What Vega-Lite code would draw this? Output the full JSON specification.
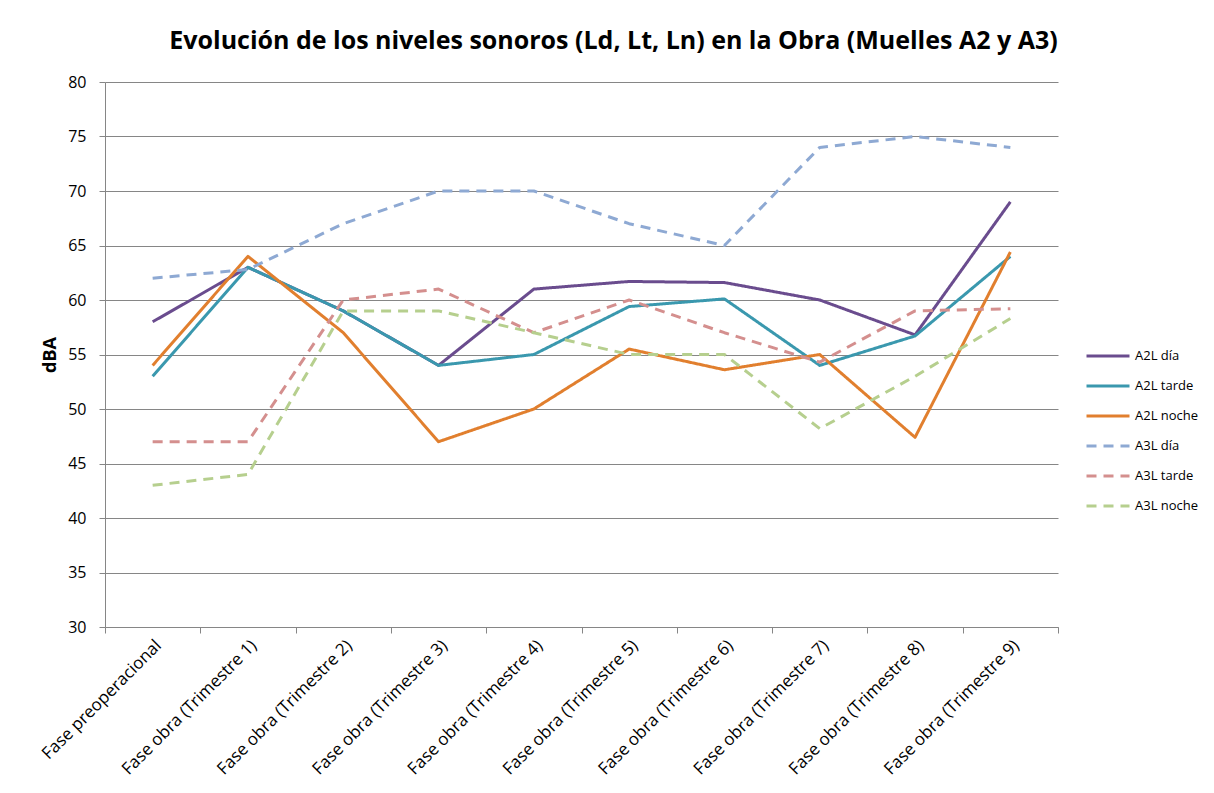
{
  "$schema": "https://vega.github.io/schema/vega-lite/v6.json",
  "autosize": {"type": "none"},
  "width": 953,
  "height": 545,
  "padding": {"left": 105, "top": 82, "right": 156, "bottom": 166},
  "background": "white",
  "config": {
    "font": "Open Sans",
    "view": {"stroke": null}
  },
  "title": {
    "text": "Evolución de los niveles sonoros (Ld, Lt, Ln) en la Obra (Muelles A2 y A3)",
    "font": "Open Sans",
    "fontSize": 25,
    "fontWeight": "bold",
    "color": "#000000",
    "anchor": "middle",
    "dx": 32,
    "offset": 20
  },
  "data": {
    "values": [
      {"fase": "Fase preoperacional", "serie": "A2L día", "valor": 58},
      {"fase": "Fase obra (Trimestre 1)", "serie": "A2L día", "valor": 63},
      {"fase": "Fase obra (Trimestre 2)", "serie": "A2L día", "valor": 59},
      {"fase": "Fase obra (Trimestre 3)", "serie": "A2L día", "valor": 54},
      {"fase": "Fase obra (Trimestre 4)", "serie": "A2L día", "valor": 61},
      {"fase": "Fase obra (Trimestre 5)", "serie": "A2L día", "valor": 61.7},
      {"fase": "Fase obra (Trimestre 6)", "serie": "A2L día", "valor": 61.6},
      {"fase": "Fase obra (Trimestre 7)", "serie": "A2L día", "valor": 60},
      {"fase": "Fase obra (Trimestre 8)", "serie": "A2L día", "valor": 56.8},
      {"fase": "Fase obra (Trimestre 9)", "serie": "A2L día", "valor": 69},

      {"fase": "Fase preoperacional", "serie": "A2L tarde", "valor": 53},
      {"fase": "Fase obra (Trimestre 1)", "serie": "A2L tarde", "valor": 63},
      {"fase": "Fase obra (Trimestre 2)", "serie": "A2L tarde", "valor": 59},
      {"fase": "Fase obra (Trimestre 3)", "serie": "A2L tarde", "valor": 54},
      {"fase": "Fase obra (Trimestre 4)", "serie": "A2L tarde", "valor": 55},
      {"fase": "Fase obra (Trimestre 5)", "serie": "A2L tarde", "valor": 59.4},
      {"fase": "Fase obra (Trimestre 6)", "serie": "A2L tarde", "valor": 60.1},
      {"fase": "Fase obra (Trimestre 7)", "serie": "A2L tarde", "valor": 54},
      {"fase": "Fase obra (Trimestre 8)", "serie": "A2L tarde", "valor": 56.7},
      {"fase": "Fase obra (Trimestre 9)", "serie": "A2L tarde", "valor": 64},

      {"fase": "Fase preoperacional", "serie": "A2L noche", "valor": 54},
      {"fase": "Fase obra (Trimestre 1)", "serie": "A2L noche", "valor": 64},
      {"fase": "Fase obra (Trimestre 2)", "serie": "A2L noche", "valor": 57},
      {"fase": "Fase obra (Trimestre 3)", "serie": "A2L noche", "valor": 47},
      {"fase": "Fase obra (Trimestre 4)", "serie": "A2L noche", "valor": 50},
      {"fase": "Fase obra (Trimestre 5)", "serie": "A2L noche", "valor": 55.5},
      {"fase": "Fase obra (Trimestre 6)", "serie": "A2L noche", "valor": 53.6},
      {"fase": "Fase obra (Trimestre 7)", "serie": "A2L noche", "valor": 55},
      {"fase": "Fase obra (Trimestre 8)", "serie": "A2L noche", "valor": 47.4},
      {"fase": "Fase obra (Trimestre 9)", "serie": "A2L noche", "valor": 64.4},

      {"fase": "Fase preoperacional", "serie": "A3L día", "valor": 62},
      {"fase": "Fase obra (Trimestre 1)", "serie": "A3L día", "valor": 62.8},
      {"fase": "Fase obra (Trimestre 2)", "serie": "A3L día", "valor": 67},
      {"fase": "Fase obra (Trimestre 3)", "serie": "A3L día", "valor": 70},
      {"fase": "Fase obra (Trimestre 4)", "serie": "A3L día", "valor": 70},
      {"fase": "Fase obra (Trimestre 5)", "serie": "A3L día", "valor": 67},
      {"fase": "Fase obra (Trimestre 6)", "serie": "A3L día", "valor": 65},
      {"fase": "Fase obra (Trimestre 7)", "serie": "A3L día", "valor": 74},
      {"fase": "Fase obra (Trimestre 8)", "serie": "A3L día", "valor": 75},
      {"fase": "Fase obra (Trimestre 9)", "serie": "A3L día", "valor": 74},

      {"fase": "Fase preoperacional", "serie": "A3L tarde", "valor": 47},
      {"fase": "Fase obra (Trimestre 1)", "serie": "A3L tarde", "valor": 47},
      {"fase": "Fase obra (Trimestre 2)", "serie": "A3L tarde", "valor": 60},
      {"fase": "Fase obra (Trimestre 3)", "serie": "A3L tarde", "valor": 61},
      {"fase": "Fase obra (Trimestre 4)", "serie": "A3L tarde", "valor": 57},
      {"fase": "Fase obra (Trimestre 5)", "serie": "A3L tarde", "valor": 60},
      {"fase": "Fase obra (Trimestre 6)", "serie": "A3L tarde", "valor": 57},
      {"fase": "Fase obra (Trimestre 7)", "serie": "A3L tarde", "valor": 54.3},
      {"fase": "Fase obra (Trimestre 8)", "serie": "A3L tarde", "valor": 59},
      {"fase": "Fase obra (Trimestre 9)", "serie": "A3L tarde", "valor": 59.2},

      {"fase": "Fase preoperacional", "serie": "A3L noche", "valor": 43},
      {"fase": "Fase obra (Trimestre 1)", "serie": "A3L noche", "valor": 44},
      {"fase": "Fase obra (Trimestre 2)", "serie": "A3L noche", "valor": 59},
      {"fase": "Fase obra (Trimestre 3)", "serie": "A3L noche", "valor": 59},
      {"fase": "Fase obra (Trimestre 4)", "serie": "A3L noche", "valor": 57},
      {"fase": "Fase obra (Trimestre 5)", "serie": "A3L noche", "valor": 55},
      {"fase": "Fase obra (Trimestre 6)", "serie": "A3L noche", "valor": 55},
      {"fase": "Fase obra (Trimestre 7)", "serie": "A3L noche", "valor": 48.2},
      {"fase": "Fase obra (Trimestre 8)", "serie": "A3L noche", "valor": 53},
      {"fase": "Fase obra (Trimestre 9)", "serie": "A3L noche", "valor": 58.3}
    ]
  },
  "mark": {"type": "line", "strokeWidth": 3, "strokeJoin": "round"},
  "encoding": {
    "x": {
      "field": "fase",
      "type": "nominal",
      "sort": null,
      "scale": {"type": "band", "paddingInner": 0, "paddingOuter": 0},
      "axis": {
        "title": null,
        "labelAngle": -45,
        "labelAlign": "right",
        "labelBaseline": "top",
        "labelFontSize": 17,
        "labelLimit": 0,
        "labelColor": "#000000",
        "labelPadding": 4,
        "labelOverlap": false,
        "tickBand": "extent",
        "tickSize": 6,
        "tickColor": "#868686",
        "domainColor": "#868686",
        "grid": false
      }
    },
    "y": {
      "field": "valor",
      "type": "quantitative",
      "scale": {"domain": [30, 80], "nice": false, "zero": false},
      "axis": {
        "title": "dBA",
        "titleFontSize": 18,
        "titleFontWeight": "bold",
        "titleColor": "#000000",
        "titlePadding": 8,
        "values": [30, 35, 40, 45, 50, 55, 60, 65, 70, 75, 80],
        "labelFontSize": 16,
        "labelColor": "#000000",
        "labelPadding": 13,
        "tickSize": 6,
        "tickColor": "#868686",
        "domainColor": "#868686",
        "grid": true,
        "gridColor": "#868686",
        "gridOpacity": 1,
        "gridWidth": 1
      }
    },
    "color": {
      "field": "serie",
      "type": "nominal",
      "sort": null,
      "scale": {
        "domain": ["A2L día", "A2L tarde", "A2L noche", "A3L día", "A3L tarde", "A3L noche"],
        "range": ["#6A4C8E", "#3A98AE", "#E17F2E", "#8EA9D3", "#D48F8E", "#B6CF8E"]
      },
      "legend": {
        "title": null,
        "orient": "none",
        "legendX": 980,
        "legendY": 251,
        "symbolType": "stroke",
        "symbolStrokeWidth": 3,
        "symbolSize": 1849,
        "labelFontSize": 13,
        "labelColor": "#000000",
        "labelOffset": 4,
        "rowPadding": 0
      }
    },
    "strokeDash": {
      "field": "serie",
      "type": "nominal",
      "sort": null,
      "scale": {
        "domain": ["A2L día", "A2L tarde", "A2L noche", "A3L día", "A3L tarde", "A3L noche"],
        "range": [[1, 0], [1, 0], [1, 0], [10, 7], [10, 7], [10, 7]]
      }
    }
  }
}
